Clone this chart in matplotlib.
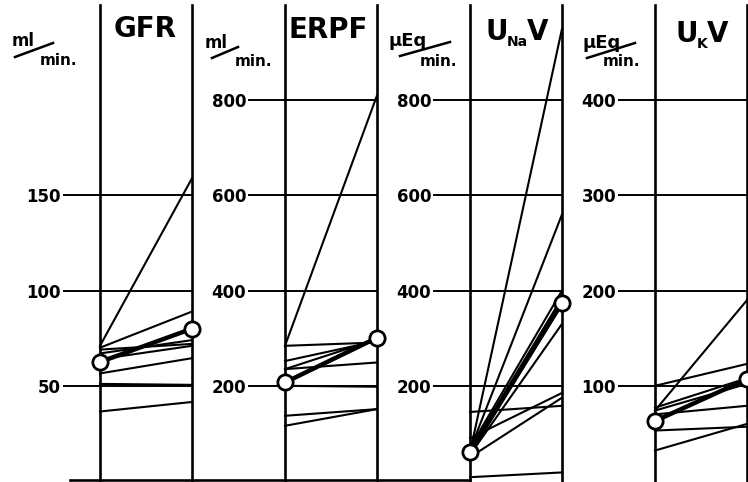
import matplotlib
matplotlib.use("Agg")
import matplotlib.pyplot as plt
from matplotlib.lines import Line2D

W, H = 748, 482
INK = "black"

# --- data: value before (left rail) and after (right rail) for each subject ---
gfr_pre = [71, 70, 69, 67, 64, 56.5, 51, 36.5]
gfr_post = [159, 89, 72, 74, 71, 64.5, 50.5, 41.5]
gfr_mean = [62.5, 80]
gfr_ticks = [50, 100, 150]

erpf_pre = [284, 284, 252, 235, 235, 200, 137, 116]
erpf_post = [810, 291, 294, 298, 249, 198, 151, 151]
erpf_mean = [207, 301]
erpf_ticks = [200, 400, 600, 800]

unav_pre = [60, 65, 70, 65, 60, 55, 90, 50, 145, 8]
unav_post = [950, 560, 400, 385, 370, 330, 185, 175, 158, 18]
unav_mean = [60, 375]
unav_ticks = [200, 400, 600, 800]

ukv_pre = [74, 100, 77, 74, 70, 53, 32]
ukv_post = [190, 123, 108, 102, 79, 57, 60]
ukv_mean = [63, 107]
ukv_ticks = [100, 200, 300, 400]

panels = [
    (gfr_pre, gfr_post, gfr_mean, gfr_ticks, 250, 100),
    (erpf_pre, erpf_post, erpf_mean, erpf_ticks, 1000, 285),
    (unav_pre, unav_post, unav_mean, unav_ticks, 1000, 470),
    (ukv_pre, ukv_post, ukv_mean, ukv_ticks, 500, 655),
]

TOP, BOT, PW = 5, 481, 92


def fx(x):
    return x / W


def fy(y):
    return 1 - y / H


fig = plt.figure(figsize=(W / 100, H / 100), dpi=100)
fig.patch.set_facecolor("white")

for pre, post, mean, ticks, ymax, left in panels:
    ax = fig.add_axes([fx(left), fy(BOT), PW / W, (BOT - TOP) / H])
    ax.set_xlim(0, 1)
    ax.set_ylim(0, ymax)
    for s in ("top", "bottom"):
        ax.spines[s].set_visible(False)
    for s in ("left", "right"):
        ax.spines[s].set_linewidth(1.9)
        ax.spines[s].set_color(INK)
    ax.set_xticks([])
    ax.set_yticks(ticks)
    ax.tick_params(axis="y", left=True, right=False, length=27, width=1.4,
                   pad=1, labelsize=12, colors=INK)
    for lbl in ax.get_yticklabels():
        lbl.set_fontweight("bold")
    ax.grid(axis="y", color=INK, lw=1.4)
    ax.set_axisbelow(True)
    ax.patch.set_alpha(0)

    for a, b in zip(pre, post):
        ax.plot([0, 1], [a, b], color=INK, lw=1.5, clip_on=False)
    ax.plot([0, 1], mean, color=INK, lw=3.2, marker="o", ms=11,
            mfc="white", mec=INK, mew=2, clip_on=False, zorder=5)

# baseline under the first panels
fig.add_artist(Line2D([fx(70), fx(470)], [fy(480), fy(480)], color=INK, lw=1.9))

# panel titles
tkw = dict(fontsize=20, fontweight="bold", color=INK, va="baseline")
skw = dict(fontsize=10, fontweight="bold", color=INK, va="baseline", ha="left")
fig.text(fx(145), fy(37), "GFR", ha="center", **tkw)
fig.text(fx(328), fy(38), "ERPF", ha="center", **tkw)
fig.text(fx(485), fy(40), "U", ha="left", **tkw)
fig.text(fx(507), fy(46), "Na", **skw)
fig.text(fx(527), fy(40), "V", ha="left", **tkw)
fig.text(fx(675), fy(42), "U", ha="left", **tkw)
fig.text(fx(697), fy(48), "K", **skw)
fig.text(fx(707), fy(42), "V", ha="left", **tkw)

# unit labels: numerator, slash, denominator
units = [
    ("ml", 12, 12, 46, (15, 57), (53, 43), 40, 65),
    ("ml", 12, 205, 48, (212, 58), (238, 47), 235, 66),
    ("\u03bcEq", 13, 389, 46, (400, 56), (450, 42), 420, 66),
    ("\u03bcEq", 13, 583, 48, (587, 58), (635, 43), 603, 66),
]
for num, fs, nx, ny, p0, p1, dx, dy in units:
    fig.text(fx(nx), fy(ny), num, fontsize=fs, fontweight="bold", color=INK,
             va="baseline", ha="left")
    fig.add_artist(Line2D([fx(p0[0]), fx(p1[0])], [fy(p0[1]), fy(p1[1])],
                          color=INK, lw=1.8))
    fig.text(fx(dx), fy(dy), "min.", fontsize=11, fontweight="bold", color=INK,
             va="baseline", ha="left")

fig.savefig("out.png", dpi=100, facecolor="white")
